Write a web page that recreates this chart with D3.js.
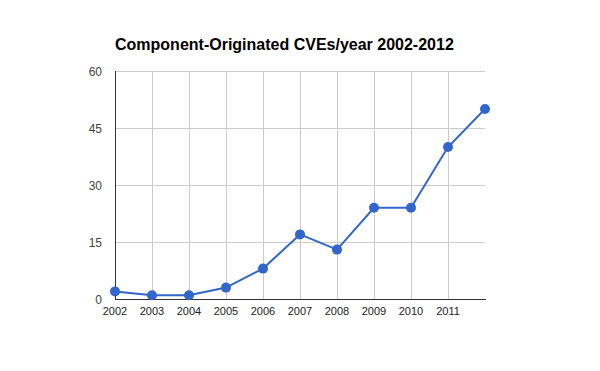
<!DOCTYPE html>
<html>
<head>
<meta charset="utf-8">
<script src="https://cdn.jsdelivr.net/npm/d3@7"></script>
<style>
  body { margin: 0; background: #fff; }
  text { font-family: Arial, "Liberation Sans", sans-serif; }
</style>
</head>
<body>
<script>
const years = [2002, 2003, 2004, 2005, 2006, 2007, 2008, 2009, 2010, 2011, 2012]
const cves = [2, 1, 1, 3, 8, 17, 13, 24, 24, 40, 50]
const yTicks = [0, 15, 30, 45, 60]
const xLabels = [2002, 2003, 2004, 2005, 2006, 2007, 2008, 2009, 2010, 2011]

const w = 600
const h = 371
const margin = { top: 71, bottom: 72, left: 115, right: 115 }

const svg = d3.select('body')
  .append('svg')
  .attr('width', w)
  .attr('height', h)

const xScale = d3.scaleLinear()
  .domain([2002, 2012])
  .range([margin.left, w - margin.right])

const yScale = d3.scaleLinear()
  .domain([0, 60])
  .range([h - margin.bottom, margin.top])

// gridlines
svg.append('g')
  .selectAll('line')
  .data(yTicks)
  .enter()
  .append('line')
  .attr('x1', margin.left)
  .attr('x2', w - margin.right)
  .attr('y1', d => Math.round(yScale(d)) + 0.5)
  .attr('y2', d => Math.round(yScale(d)) + 0.5)
  .style('stroke', '#cccccc')

svg.append('g')
  .selectAll('line')
  .data(xLabels.slice(1))
  .enter()
  .append('line')
  .attr('x1', d => Math.round(xScale(d)) + 0.5)
  .attr('x2', d => Math.round(xScale(d)) + 0.5)
  .attr('y1', margin.top)
  .attr('y2', h - margin.bottom)
  .style('stroke', '#cccccc')

// axes lines
svg.append('line')
  .attr('x1', margin.left + 0.5)
  .attr('x2', margin.left + 0.5)
  .attr('y1', margin.top)
  .attr('y2', h - margin.bottom + 1)
  .style('stroke', '#333333')

svg.append('line')
  .attr('x1', margin.left)
  .attr('x2', w - margin.right + 1)
  .attr('y1', h - margin.bottom + 0.5)
  .attr('y2', h - margin.bottom + 0.5)
  .style('stroke', '#333333')

// tick labels
svg.append('g')
  .selectAll('text')
  .data(yTicks)
  .enter()
  .append('text')
  .attr('x', margin.left - 13)
  .attr('y', d => yScale(d) + 4.5)
  .attr('text-anchor', 'end')
  .style('font-size', '12px')
  .style('fill', '#444444')
  .text(d => d)

svg.append('g')
  .selectAll('text')
  .data(xLabels)
  .enter()
  .append('text')
  .attr('x', d => xScale(d))
  .attr('y', h - margin.bottom + 16)
  .attr('text-anchor', 'middle')
  .style('font-size', '11px')
  .style('fill', '#222222')
  .text(d => d)

// title
svg.append('text')
  .attr('x', 115)
  .attr('y', 50)
  .style('font-size', '16px')
  .style('font-weight', 'bold')
  .style('fill', '#000')
  .text('Component-Originated CVEs/year 2002-2012')

// series
const line = d3.line()
  .x((d, i) => xScale(years[i]))
  .y(d => yScale(d))

svg.append('path')
  .datum(cves)
  .attr('d', line)
  .style('fill', 'none')
  .style('stroke', '#3366cc')
  .style('stroke-width', 2)

svg.append('g')
  .selectAll('circle')
  .data(cves)
  .enter()
  .append('circle')
  .attr('cx', (d, i) => xScale(years[i]))
  .attr('cy', d => yScale(d))
  .attr('r', 5)
  .style('fill', '#3366cc')
</script>
</body>
</html>
